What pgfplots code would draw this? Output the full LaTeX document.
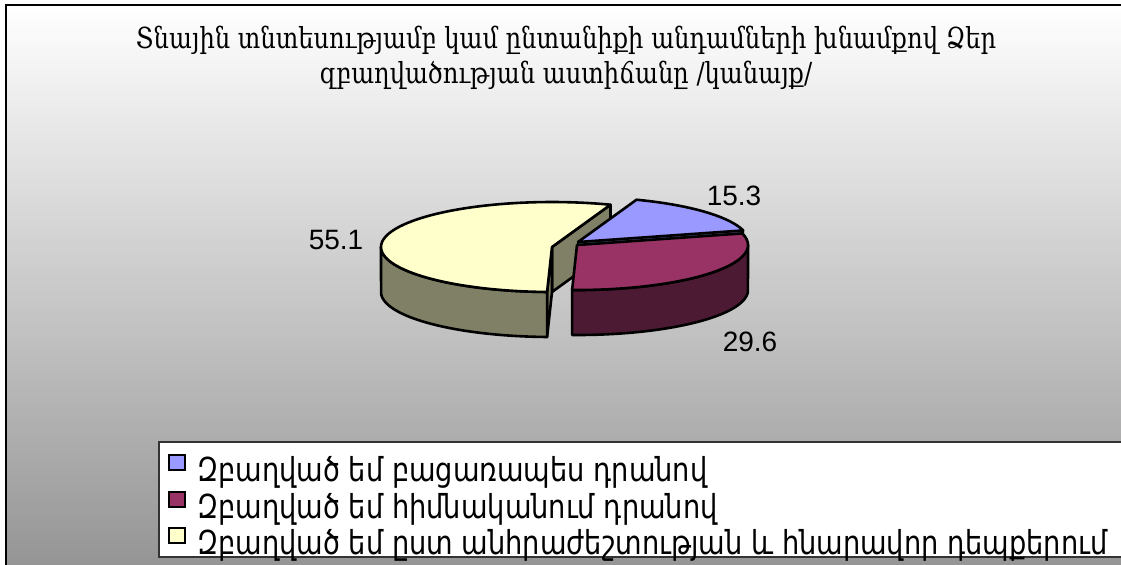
\documentclass[border=0pt]{standalone}
\usepackage{pgfplots}
\pgfplotsset{compat=1.18}
\usepackage{fontspec}
\setmainfont{DejaVu Sans}
\newfontfamily\titlefont{DejaVu Serif}
\newfontfamily\legfont{DejaVu Sans}
\newfontfamily\numfont{Liberation Sans}
\definecolor{blueTop}{HTML}{9999FF}
\definecolor{blueSide}{HTML}{4D4D80}
\definecolor{redTop}{HTML}{993366}
\definecolor{redSide}{HTML}{4D1A33}
\definecolor{yelTop}{HTML}{FFFFCC}
\definecolor{yelSide}{HTML}{808066}
\definecolor{bgBot}{RGB}{148,148,148}
% data (percent)
\newcommand\valBlue{15.3}
\newcommand\valRed{29.6}
\newcommand\valYel{55.1}
% geometry in pixel units
\newcommand\rx{171}
\newcommand\ry{45}
\newcommand\hh{45}
\newcommand\cxR{577}\newcommand\cyR{245}
\newcommand\cxB{578}\newcommand\cyB{242}
\newcommand\cxY{552}\newcommand\cyY{247}
\pgfmathsetmacro\aStart{70}
\pgfmathsetmacro\aBR{\aStart-3.6*\valBlue}
\pgfmathsetmacro\aRY{\aBR-3.6*\valRed}
\pgfmathsetmacro\aYA{\aRY+360}
% yellow radial face at aStart
\pgfmathsetmacro\yFx{\cxY+\rx*cos(\aStart)}
\pgfmathsetmacro\yFy{\cyY-\ry*sin(\aStart)}
\pgfmathsetmacro\yFyb{\yFy+\hh}
\pgfmathsetmacro\yCyb{\cyY+\hh}
% yellow radial face at aYA
\pgfmathsetmacro\yGx{\cxY+\rx*cos(\aYA)}
\pgfmathsetmacro\yGy{\cyY-\ry*sin(\aYA)}
\pgfmathsetmacro\yGyb{\yGy+\hh}
% blue radial face at aBR
\pgfmathsetmacro\bFx{\cxB+\rx*cos(\aBR)}
\pgfmathsetmacro\bFy{\cyB-\ry*sin(\aBR)}
\pgfmathsetmacro\bFyb{\bFy+\hh}
\pgfmathsetmacro\bCyb{\cyB+\hh}
\newcommand\tA{Տնային տնտեսությամբ կամ ընտանիքի անդամների խնամքով Ձեր}
\newcommand\tB{զբաղվածության աստիճանը /կանայք/}
\newcommand\lA{Զբաղված եմ բացառապես դրանով}
\newcommand\lB{Զբաղված եմ հիմնականում դրանով}
\newcommand\lC{Զբաղված եմ ըստ անհրաժեշտության և հնարավոր դեպքերում}
\newcommand\TF{\titlefont\fontsize{14.5}{17}\selectfont}
\newcommand\LF{\legfont\fontsize{16.5}{19}\selectfont}
\newlength\Lw
\newlength\Tw
\begin{document}%
\settowidth{\Lw}{\LF\lC}%
\settowidth{\Tw}{\TF\tA}%
\pgfmathsetmacro\lsx{455/\Lw}%
\pgfmathsetmacro\tsx{430/\Tw}%
\begin{tikzpicture}
\fill[white] (0,0) rectangle (560.5pt,282pt);
\begin{axis}[at={(0,0)}, anchor=south west, width=560.5pt, height=282pt,
  scale only axis, xmin=0, xmax=1121, ymin=0, ymax=564, y dir=reverse,
  hide axis, clip=false]
% background
\fill[top color=white, bottom color=bgBot] (axis cs:6,5) rectangle (axis cs:1130,570);
\draw[line width=1pt] (axis cs:6,570) -- (axis cs:6,5) -- (axis cs:1130,5);
% title
\node[anchor=base, font=\TF] at (axis cs:566,48) {\scalebox{\tsx}[1]{\tA}};
\node[anchor=base, font=\TF] at (axis cs:566,83) {\scalebox{\tsx}[1]{\tB}};
% ---- yellow slice (exploded)
\addplot[fill=yelSide, draw=black, line width=1.3pt, line join=round] coordinates
  {(\cxY,\cyY) (\yFx,\yFy) (\yFx,\yFyb) (\cxY,\yCyb)} -- cycle;
\addplot[fill=yelSide, draw=black, line width=1.3pt, line join=round] coordinates
  {(\cxY,\cyY) (\yGx,\yGy) (\yGx,\yGyb) (\cxY,\yCyb)} -- cycle;
\addplot[fill=yelSide, draw=black, line width=1.3pt, line join=round, domain=0:2, samples=121, variable=\s]
  ({\cxY+\rx*cos(\aYA+(180-\aYA)*(1-abs(1-\s)))},
   {\cyY-\ry*sin(\aYA+(180-\aYA)*(1-abs(1-\s)))+\hh*(\s>1)}) -- cycle;
\addplot[fill=yelTop, draw=black, line width=1.3pt, line join=round, domain=\aStart:\aYA, samples=80, variable=\t]
  ({\cxY+\rx*cos(\t)},{\cyY-\ry*sin(\t)}) -- (axis cs:\cxY,\cyY) -- cycle;
% ---- blue slice
\addplot[fill=blueSide, draw=black, line width=0.8pt, line join=round] coordinates
  {(\cxB,\cyB) (\bFx,\bFy) (\bFx,\bFyb) (\cxB,\bCyb)} -- cycle;
\addplot[fill=blueTop, draw=black, line width=1.3pt, line join=round, domain=\aBR:\aStart, samples=40, variable=\t]
  ({\cxB+\rx*cos(\t)},{\cyB-\ry*sin(\t)}) -- (axis cs:\cxB,\cyB) -- cycle;
% ---- red slice
\addplot[fill=redSide, draw=black, line width=1.3pt, line join=round, domain=0:2, samples=121, variable=\s]
  ({\cxR+\rx*cos(\aRY+(0-\aRY)*(1-abs(1-\s)))},
   {\cyR-\ry*sin(\aRY+(0-\aRY)*(1-abs(1-\s)))+\hh*(\s>1)}) -- cycle;
\addplot[fill=redTop, draw=black, line width=1.3pt, line join=round, domain=\aRY:\aBR, samples=60, variable=\t]
  ({\cxR+\rx*cos(\t)},{\cyR-\ry*sin(\t)}) -- (axis cs:\cxR,\cyR) -- cycle;
% data labels
\node[font=\numfont\fontsize{14}{16}\selectfont] at (axis cs:734,196) {15.3};
\node[font=\numfont\fontsize{14}{16}\selectfont] at (axis cs:750,342) {29.6};
\node[font=\numfont\fontsize{14}{16}\selectfont] at (axis cs:336,240) {55.1};
% legend
\filldraw[fill=white, draw=black!80, line width=0.6pt] (axis cs:159,442) rectangle (axis cs:1135,557);
\filldraw[fill=blueTop, draw=black, line width=0.9pt] (axis cs:169,455) rectangle (axis cs:185,470);
\filldraw[fill=redTop, draw=black, line width=0.9pt] (axis cs:169,492) rectangle (axis cs:185,507);
\filldraw[fill=yelTop, draw=black, line width=0.9pt] (axis cs:169,528) rectangle (axis cs:185,543);
\node[anchor=base west, inner sep=0pt, font=\LF] at (axis cs:197,481) {\scalebox{\lsx}[1]{\lA}};
\node[anchor=base west, inner sep=0pt, font=\LF] at (axis cs:197,518) {\scalebox{\lsx}[1]{\lB}};
\node[anchor=base west, inner sep=0pt, font=\LF] at (axis cs:197,554) {\scalebox{\lsx}[1]{\lC}};
\end{axis}
\pgfresetboundingbox
\useasboundingbox (0,0) rectangle (560.5pt,282pt);
\end{tikzpicture}%
\end{document}
